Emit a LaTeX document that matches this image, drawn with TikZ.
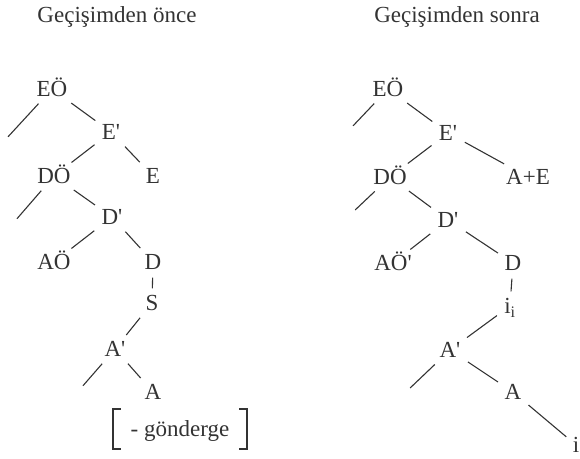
\documentclass[tikz,border=0pt]{standalone}
\usepackage{fontspec}
\setmainfont{Liberation Serif}
\definecolor{cInk}{HTML}{333333}
\tikzset{
  lab/.style  = {font=\fontsize{23}{25}\selectfont, text=cInk, text height=15pt,
                 text depth=0pt, inner sep=4pt},
  br/.style   = {draw=cInk, line width=1.1pt, shorten <=4pt, shorten >=3pt},
  brk/.style  = {draw=cInk, line width=2pt},
  feat/.style = {lab, minimum width=134pt, minimum height=40pt},
}
\newcommand{\pr}{\textquotesingle}

\begin{document}
\begin{tikzpicture}[x=1pt, y=-1pt]
  \useasboundingbox (0,0) rectangle (580,458);

  \node[lab] (ta) at (117,15) {Geçişimden önce};
  \node[lab] (tb) at (457,15) {Geçişimden sonra};

  \node[lab] (EOa) at (52,89)   {EÖ};
  \node[lab] (Epa) at (111,132) {E\pr};
  \node[lab] (DOa) at (54,176)  {DÖ};
  \node[lab] (Ea)  at (153,176) {E};
  \node[lab] (Dpa) at (112,217) {D\pr};
  \node[lab] (AOa) at (54,262)  {AÖ};
  \node[lab] (Da)  at (153,262) {D};
  \node[lab] (Sa)  at (152,303) {S};
  \node[lab] (Apa) at (115,349) {A\pr};
  \node[lab] (Aa)  at (153,392) {A};
  \node[feat] (gond) at (180,429) {- gönderge};
  \coordinate (la1) at (6,139);
  \coordinate (la2) at (15,221);
  \coordinate (la3) at (81,388);

  \node[lab] (EOb) at (388,89)  {EÖ};
  \node[lab] (Epb) at (448,133) {E\pr};
  \node[lab] (DOb) at (390,177) {DÖ};
  \node[lab] (AEb) at (528,177) {A+E};
  \node[lab] (Dpb) at (448,220) {D\pr};
  \node[lab] (AOb) at (393,263) {AÖ\pr};
  \node[lab] (Db)  at (513,263) {D};
  \node[lab] (iib) at (510,306) {i\textsubscript{i}};
  \node[lab] (Apb) at (450,350) {A\pr};
  \node[lab] (Ab)  at (513,392) {A};
  \node[lab] (ib)  at (576,445) {i};
  \coordinate (lb1) at (351,128);
  \coordinate (lb2) at (353,212);
  \coordinate (lb3) at (408,390);

  \foreach \a/\b in {EOa/la1, EOa/Epa, Epa/DOa, Epa/Ea, DOa/la2, DOa/Dpa, Dpa/AOa, Dpa/Da,
                     Da/Sa, Sa/Apa, Apa/la3, Apa/Aa,
                     EOb/lb1, EOb/Epb, Epb/DOb, Epb/AEb, DOb/lb2, DOb/Dpb, Dpb/AOb, Dpb/Db,
                     Db/iib, iib/Apb, Apb/lb3, Apb/Ab, Ab/ib}
    \draw[br] (\a) -- (\b);

  \draw[brk] ([xshift=8pt]gond.north west) -| (gond.south west) -- ++(8pt,0);
  \draw[brk] ([xshift=-8pt]gond.north east) -| (gond.south east) -- ++(-8pt,0);
\end{tikzpicture}
\end{document}
